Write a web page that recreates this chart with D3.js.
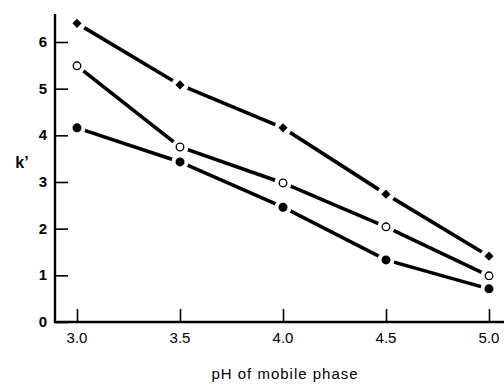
<!DOCTYPE html>
<html>
<head>
<meta charset="utf-8">
<style>
  body { margin: 0; background: #fff; }
  text { font-family: "Liberation Sans", Arial, sans-serif; fill: #000; }
</style>
</head>
<body>
<script src="https://cdn.jsdelivr.net/npm/d3@7"></script>
<script>
// data
var ph = [3.0, 3.5, 4.0, 4.5, 5.0];
var diamondK = [6.4, 5.08, 4.16, 2.74, 1.41];
var openK = [5.49, 3.75, 2.98, 2.04, 0.99];
var filledK = [4.16, 3.43, 2.46, 1.33, 0.71];
var xTicks = [3.0, 3.5, 4.0, 4.5, 5.0];
var yTicks = [0, 1, 2, 3, 4, 5, 6];

var width = 504, height = 384;
var svg = d3.select("body").append("svg")
    .attr("width", width)
    .attr("height", height);

var x = d3.scaleLinear().domain([3.0, 5.0]).range([77, 489]);
var y = d3.scaleLinear().domain([0, 6]).range([322, 42]);

// axes
var yAxis = svg.append("g")
    .attr("transform", "translate(55,0)")
    .call(d3.axisRight(y).tickValues(yTicks).tickSize(13).tickFormat(""));
yAxis.select(".domain").remove();
yAxis.selectAll(".tick line").attr("stroke", "#000").attr("stroke-width", 1.6);

var xAxis = svg.append("g")
    .attr("transform", "translate(0,322)")
    .call(d3.axisTop(x).tickValues(xTicks).tickSize(13).tickFormat(""));
xAxis.select(".domain").remove();
xAxis.selectAll(".tick line").attr("stroke", "#000").attr("stroke-width", 1.6);

svg.append("line")
    .attr("x1", 55).attr("x2", 55)
    .attr("y1", 14).attr("y2", 323)
    .attr("stroke", "#000").attr("stroke-width", 2.4);
svg.append("line")
    .attr("x1", 54).attr("x2", 504)
    .attr("y1", 322).attr("y2", 322)
    .attr("stroke", "#000").attr("stroke-width", 2.4);

// tick labels
svg.selectAll(".ylab")
    .data(yTicks)
    .enter()
    .append("text")
    .attr("x", 47)
    .attr("y", function(d) { return y(d) + 5; })
    .attr("text-anchor", "end")
    .attr("font-size", 15)
    .attr("font-weight", "bold")
    .text(function(d) { return d; });

svg.selectAll(".xlab")
    .data(xTicks)
    .enter()
    .append("text")
    .attr("x", function(d) { return x(d); })
    .attr("y", 343)
    .attr("text-anchor", "middle")
    .attr("font-size", 15)
    .text(function(d) { return d.toFixed(1); });

svg.append("text")
    .attr("x", 22)
    .attr("y", 168)
    .attr("text-anchor", "middle")
    .attr("font-size", 16)
    .attr("font-weight", "bold")
    .text("k\u2019");

svg.append("text")
    .attr("x", 285)
    .attr("y", 379)
    .attr("text-anchor", "middle")
    .attr("font-size", 15)
    .attr("letter-spacing", 1)
    .text("pH of mobile phase");

// series
var line = d3.line()
    .x(function(d) { return x(d[0]); })
    .y(function(d) { return y(d[1]); });

var series = [
    { vals: diamondK, type: "diamond" },
    { vals: openK, type: "open" },
    { vals: filledK, type: "filled" }
];

series.forEach(function(s) {
    var pts = ph.map(function(p, i) { return [p, s.vals[i]]; });
    svg.append("path")
        .datum(pts)
        .attr("d", line)
        .attr("fill", "none")
        .attr("stroke", "#000")
        .attr("stroke-width", 3.6)
        .attr("stroke-linecap", "round");

    var g = svg.append("g");
    // white halo leaves a gap in the line round each marker
    g.selectAll("circle.halo")
        .data(pts)
        .enter()
        .append("circle")
        .attr("cx", function(d) { return x(d[0]); })
        .attr("cy", function(d) { return y(d[1]); })
        .attr("r", 8.5)
        .attr("fill", "#fff");
    if (s.type === "diamond") {
        var sym = d3.symbol().type(d3.symbolSquare).size(42);
        g.selectAll("path")
            .data(pts)
            .enter()
            .append("path")
            .attr("d", sym)
            .attr("transform", function(d) { return "translate(" + x(d[0]) + "," + y(d[1]) + ") rotate(45)"; })
            .attr("fill", "#000");
    } else {
        g.selectAll("circle.dot")
            .data(pts)
            .enter()
            .append("circle")
            .attr("cx", function(d) { return x(d[0]); })
            .attr("cy", function(d) { return y(d[1]); })
            .attr("r", s.type === "open" ? 3.8 : 4.5)
            .attr("fill", s.type === "open" ? "#fff" : "#000")
            .attr("stroke", "#000")
            .attr("stroke-width", s.type === "open" ? 1.3 : 0);
    }
});
</script>
</body>
</html>
